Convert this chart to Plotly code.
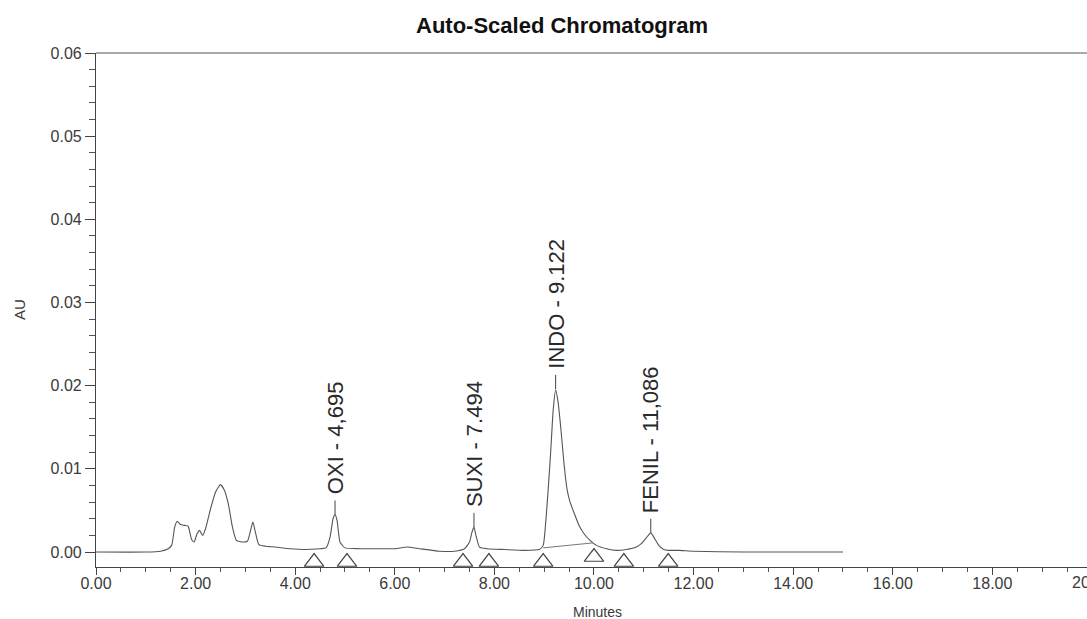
import plotly.graph_objects as go

# ---- data ----
time_min = [0.0, 1.0, 1.30, 1.45, 1.52, 1.58, 1.63, 1.70, 1.78, 1.85, 1.92, 1.97, 2.03, 2.08,
            2.14, 2.20, 2.30, 2.40, 2.50, 2.58, 2.66, 2.74, 2.82, 2.95, 3.04, 3.10, 3.15, 3.20,
            3.27, 3.40, 3.60, 3.90, 4.20, 4.50, 4.62, 4.70, 4.76, 4.80, 4.84, 4.90, 5.00, 5.30,
            5.60, 6.00, 6.25, 6.50, 6.90, 7.20, 7.40, 7.50, 7.55, 7.59, 7.63, 7.70, 7.85, 8.20,
            8.60, 8.90, 8.98, 9.03, 9.08, 9.13, 9.18, 9.23, 9.28, 9.34, 9.40, 9.46, 9.52, 9.60,
            9.70, 9.80, 9.92, 10.05, 10.25, 10.45, 10.65, 10.85, 10.95, 11.05, 11.14, 11.22,
            11.30, 11.40, 11.50, 11.70, 12.0, 13.0, 14.0, 15.0]
signal_au = [0.0000, 0.0000, 0.0001, 0.0004, 0.0008, 0.0030, 0.0037, 0.0033, 0.0032, 0.0031,
             0.0015, 0.0012, 0.0022, 0.0026, 0.0020, 0.0028, 0.0052, 0.0072, 0.0081, 0.0074,
             0.0057, 0.0030, 0.0014, 0.0012, 0.0013, 0.0025, 0.0036, 0.0024, 0.0009, 0.0007,
             0.0006, 0.0004, 0.0003, 0.0004, 0.0005, 0.0018, 0.0040, 0.0045, 0.0038, 0.0012,
             0.0005, 0.0004, 0.0004, 0.0004, 0.0006, 0.0004, 0.0001, 0.0001, 0.0004, 0.0012,
             0.0024, 0.0030, 0.0020, 0.0006, 0.0004, 0.0003, 0.0002, 0.0003, 0.0008, 0.0035,
             0.0075, 0.0120, 0.0170, 0.0195, 0.0180, 0.0145, 0.0105, 0.0075, 0.0060, 0.0047,
             0.0032, 0.0022, 0.0014, 0.0008, 0.0004, 0.0002, 0.0003, 0.0006, 0.0010, 0.0017,
             0.0023, 0.0016, 0.0008, 0.0003, 0.0002, 0.0002, 0.0001, 0.0000, 0.0000, 0.0000]

# integration baseline under the main peak
base_time = [8.98, 9.98]
base_au = [0.0005, 0.0011]

# peak start / end markers
marker_time = [4.38, 5.04, 7.37, 7.89, 8.98, 10.00, 10.60, 11.49]
marker_au = [-0.0012, -0.0012, -0.0012, -0.0012, -0.0012, -0.0006, -0.0012, -0.0012]

# peak labels
peak_names = ["OXI - 4,695", "SUXI - 7.494", "INDO - 9.122", "FENIL - 11,086"]
peak_time = [4.80, 7.59, 9.23, 11.14]
peak_au = [0.0045, 0.0030, 0.0196, 0.0023]
stem_len = 0.0017

x_ticks = [0, 2, 4, 6, 8, 10, 12, 14, 16, 18]
y_ticks = [0.00, 0.01, 0.02, 0.03, 0.04, 0.05, 0.06]

X_MAX = 19.9
Y_MIN, Y_MAX = -0.0018, 0.06
FONT = "Liberation Sans, Arial, sans-serif"
INK = "#3a3a3a"

fig = go.Figure()
fig.add_trace(go.Scatter(x=time_min, y=signal_au, mode="lines",
                         line=dict(color="#555555", width=1.1, shape="spline", smoothing=0.5),
                         hoverinfo="skip", showlegend=False))
fig.add_trace(go.Scatter(x=base_time, y=base_au, mode="lines",
                         line=dict(color="#777777", width=1),
                         hoverinfo="skip", showlegend=False))
fig.add_trace(go.Scatter(x=marker_time, y=marker_au, mode="markers",
                         marker=dict(symbol="triangle-up-open", size=17,
                                     color="#444444", line=dict(width=1.2, color="#444444")),
                         hoverinfo="skip", showlegend=False))

# stems from peak tops to the labels
sx, sy = [], []
for t, a in zip(peak_time, peak_au):
    sx += [t, t, None]
    sy += [a, a + stem_len, None]
fig.add_trace(go.Scatter(x=sx, y=sy, mode="lines", line=dict(color="#444444", width=1),
                         hoverinfo="skip", showlegend=False))

for name, t, a in zip(peak_names, peak_time, peak_au):
    fig.add_annotation(x=t, y=a, xref="x", yref="y", text=name, showarrow=False,
                       textangle=-90, yanchor="bottom", xanchor="center", yshift=18,
                       font=dict(family=FONT, size=22, color="#2a2a2a"))

W, H = 1087, 619
ML, MR, MT, MB = 96, 0, 53, 52
pw = W - ML - MR
ph = H - MT - MB

fig.update_layout(
    width=W, height=H, autosize=False,
    margin=dict(l=ML, r=MR, t=MT, b=MB, pad=0),
    paper_bgcolor="white", plot_bgcolor="white",
    font=dict(family=FONT, color=INK),
    showlegend=False,
)
fig.update_xaxes(range=[0, X_MAX], tickvals=x_ticks, tickformat=".2f",
                 ticks="outside", ticklen=7, tickcolor="#444", tickwidth=1,
                 ticklabelstandoff=-5,
                 showline=True, linecolor="#444", linewidth=1.2,
                 showgrid=False, zeroline=False,
                 tickfont=dict(family=FONT, size=16, color=INK),
                 minor=dict(dtick=0.5, tick0=0, ticks="outside", ticklen=4,
                            tickcolor="#555", showgrid=False))
fig.update_yaxes(range=[Y_MIN, Y_MAX], tickvals=y_ticks, tickformat=".2f",
                 ticks="outside", ticklen=10, tickcolor="#444", tickwidth=1,
                 showline=True, linecolor="#444", linewidth=1.2,
                 showgrid=False, zeroline=False,
                 tickfont=dict(family=FONT, size=16, color=INK),
                 minor=dict(dtick=0.002, tick0=0, ticks="outside", ticklen=6,
                            tickcolor="#555", showgrid=False))

# top frame line
fig.add_shape(type="line", xref="paper", yref="paper", x0=0, x1=1, y0=1, y1=1,
              line=dict(color="#8c8c8c", width=1.5))

# title and axis titles
fig.add_annotation(text="<b>Auto-Scaled Chromatogram</b>", xref="paper", yref="paper",
                   x=(562 - ML) / pw, y=1, yshift=28, showarrow=False,
                   xanchor="center", yanchor="middle",
                   font=dict(family=FONT, size=22, color="#111"))
fig.add_annotation(text="AU", xref="paper", yref="paper", x=(19 - ML) / pw, y=0.5,
                   textangle=-90, showarrow=False, xanchor="center", yanchor="middle",
                   font=dict(family=FONT, size=15, color=INK))
fig.add_annotation(text="Minutes", xref="paper", yref="paper", x=(597 - ML) / pw, y=0,
                   yshift=-45, showarrow=False, xanchor="center", yanchor="middle",
                   font=dict(family=FONT, size=14, color=INK))
# partially visible tick label at the cropped right edge
fig.add_annotation(text="20.00", xref="paper", yref="paper", x=20 / X_MAX, y=0,
                   yshift=-15, showarrow=False, xanchor="center", yanchor="middle",
                   font=dict(family=FONT, size=16, color=INK))

fig.write_html("out.html")
